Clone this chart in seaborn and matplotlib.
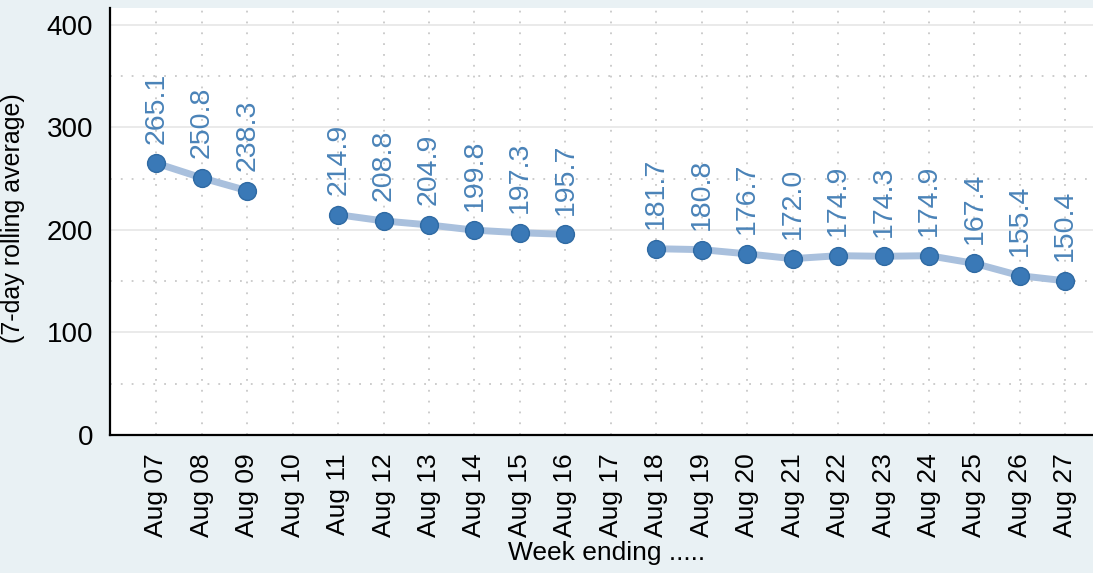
import numpy as np
import pandas as pd
import matplotlib
matplotlib.use("Agg")
import matplotlib.pyplot as plt
import seaborn as sns

categories = ["Aug 07", "Aug 08", "Aug 09", "Aug 10", "Aug 11", "Aug 12", "Aug 13",
              "Aug 14", "Aug 15", "Aug 16", "Aug 17", "Aug 18", "Aug 19", "Aug 20",
              "Aug 21", "Aug 22", "Aug 23", "Aug 24", "Aug 25", "Aug 26", "Aug 27"]
values = [265.1, 250.8, 238.3, np.nan, 214.9, 208.8, 204.9, 199.8, 197.3, 195.7,
          np.nan, 181.7, 180.8, 176.7, 172.0, 174.9, 174.3, 174.9, 167.4, 155.4, 150.4]
y_ticks = [0, 100, 200, 300, 400]

sns.set_theme(style="white")
plt.rcParams['font.family'] = ['Liberation Sans', 'DejaVu Sans']

BG = "#e9f1f4"
LINE = "#a9c0dd"
MARK = "#3a79b7"
LABEL = "#4a83b8"

df = pd.DataFrame({"pos": np.arange(len(categories)), "val": values})
df["seg"] = df["val"].isna().cumsum()
dfp = df.dropna()

fig = plt.figure(figsize=(10.93, 5.73), dpi=100, facecolor=BG)
ax = fig.add_axes([110/1093, 138/573, 1 - 110/1093 + 0.01, (435-8)/573])
ax.set_facecolor("white")

# grid
for yv in [100, 200, 300, 400]:
    ax.axhline(yv, color="#e6e6e6", lw=1.2, zorder=0)
for yv in [50, 150, 250, 350]:
    ax.axhline(yv, color="#c8c8c8", lw=1.3, ls=(0, (1, 5)), zorder=0)
for xv in range(len(categories)):
    ax.axvline(xv, color="#c8c8c8", lw=1.3, ls=(0, (1, 5)), zorder=0)

sns.lineplot(data=dfp, x="pos", y="val", units="seg", estimator=None,
             color=LINE, lw=5, ax=ax, zorder=2, legend=False)
sns.scatterplot(data=dfp, x="pos", y="val", s=165, color=MARK,
                edgecolor="#2f6aa3", linewidth=1, ax=ax, zorder=3, legend=False)

for p, v in zip(dfp["pos"], dfp["val"]):
    ax.annotate(f"{v:.1f}", (p, v), xytext=(0, 14), textcoords="offset points",
                rotation=90, ha="center", va="bottom", color=LABEL, fontsize=20.5)

ax.set_xlim(-1.02, 20.85)
ax.set_ylim(0, 416.5)
ax.set_xticks(range(len(categories)))
ax.set_xticklabels(categories, rotation=90)
ax.set_yticks(y_ticks)
ax.set_yticklabels([str(t) for t in y_ticks])
ax.tick_params(axis="both", direction="out", length=9, width=1.5, color="black",
               labelsize=20, labelcolor="black", pad=3)
ax.tick_params(axis="x", labelsize=19, pad=4)

for side in ["top", "right"]:
    ax.spines[side].set_visible(False)
for side in ["left", "bottom"]:
    ax.spines[side].set_color("black")
    ax.spines[side].set_linewidth(1.6)

ax.set_xlabel("Week ending .....", fontsize=19, color="black", labelpad=3)
ax.set_ylabel("")
fig.text(13/1093, 1 - 218/573, "(7-day rolling average)", rotation=90,
         ha="center", va="center", fontsize=18, color="black")

fig.savefig("out.png", dpi=100, facecolor=BG)
